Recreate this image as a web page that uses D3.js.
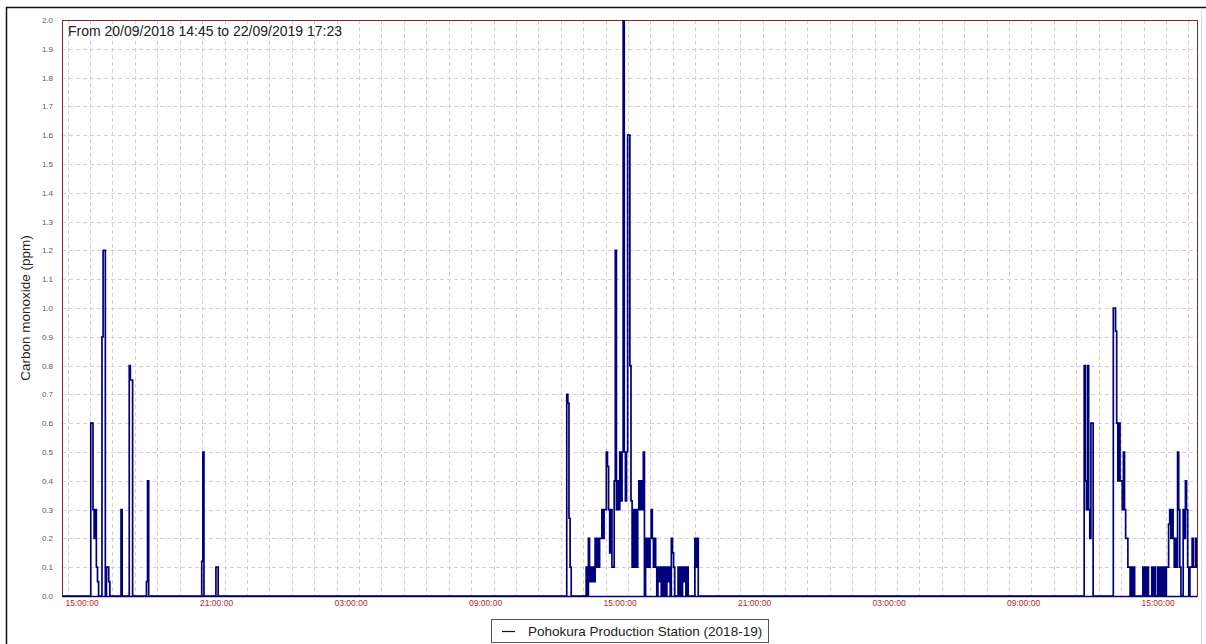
<!DOCTYPE html>
<html>
<head>
<meta charset="utf-8">
<script src="https://cdn.jsdelivr.net/npm/d3@7"></script>
<style>
  body { margin: 0; background: #fff; }
  text { font-family: "Liberation Sans", Arial, sans-serif; }
</style>
</head>
<body>
<div id="chart"></div>
<script>
// Chart text
const titleText = "From 20/09/2018 14:45 to 22/09/2019 17:23";
const seriesName = "Pohokura Production Station (2018-19)";
const yAxisTitle = "Carbon monoxide (ppm)";

// Axis range and ticks
const axisStart = "2018-09-20 14:45";
const axisEnd = "2018-09-22 17:23";
const yTickValues = [0.0, 0.1, 0.2, 0.3, 0.4, 0.5, 0.6, 0.7, 0.8, 0.9, 1.0,
  1.1, 1.2, 1.3, 1.4, 1.5, 1.6, 1.7, 1.8, 1.9, 2.0];
const xLabelHours = [3, 9, 15, 21];

// Readings (ppm), one every sampleMinutes, grouped in bursts; zero elsewhere
const sampleMinutes = 3;
const burstStarts = [
  "2018-09-20 16:02", "2018-09-20 16:32", "2018-09-20 17:23", "2018-09-20 17:45",
  "2018-09-20 18:31", "2018-09-20 20:59", "2018-09-20 21:37",
  "2018-09-21 13:16", "2018-09-21 14:08",
  "2018-09-22 12:21", "2018-09-22 13:39", "2018-09-22 14:58"
];
const burstValues = [
  [0.6, 0.6, 0.3, 0.2, 0.3, 0.1, 0.05],
  [0.9, 1.2, 1.2, 0, 0.1, 0.1, 0.05],
  [0.3],
  [0.8, 0.75, 0.75],
  [0.05, 0.4],
  [0.12, 0.5],
  [0.1, 0.1],
  [0.7, 0.67, 0.27, 0.1],
  [0.1, 0, 0.2, 0.05, 0.1, 0.05, 0.1, 0.05, 0.2, 0.1,
   0.2, 0.1, 0.2, 0.2, 0.3, 0.2, 0.3, 0.3, 0.5, 0.45,
   0.3, 0.15, 0.3, 0.1, 0.1, 0.4, 1.2, 0.3, 0.4, 0.3,
   0.5, 0.33, 0.5, 2.0, 0.5, 0.33, 0.5, 1.6, 1.6, 0.8,
   0.33, 0.1, 0.3, 0.1, 0.3, 0.1, 0.3, 0.4, 0.3, 0.4,
   0.3, 0.5, 0, 0.2, 0.1, 0.2, 0.1, 0.2, 0.3, 0.2,
   0.1, 0.2, 0.1, 0, 0.1, 0.05, 0.1, 0, 0.1, 0,
   0.1, 0, 0.1, 0.05, 0.1, 0, 0.2, 0.15, 0.1, 0,
   0, 0, 0.1, 0, 0.1, 0, 0.1, 0.05, 0.1, 0,
   0.1, 0, 0, 0, 0, 0, 0, 0.2, 0.1, 0.2, 0],
  [0.8, 0.4, 0.3, 0.8, 0.3, 0.2, 0.6, 0.6],
  [1.0, 1.0, 0.92, 0.6, 0.4, 0.6, 0.4, 0.4, 0.3, 0.5,
   0.3, 0.2, 0.2, 0.1, 0.1, 0, 0.1, 0, 0.1],
  [0.1, 0, 0.1, 0, 0.1, 0, 0, 0, 0.1, 0,
   0.1, 0, 0, 0.1, 0, 0.1, 0, 0.1, 0, 0.1,
   0, 0.1, 0.1, 0.25, 0.3, 0.2, 0.3, 0.2, 0.1, 0.2,
   0.1, 0.5, 0.3, 0.1, 0, 0, 0.3, 0.2, 0.4, 0.3,
   0.1, 0, 0.1, 0.1, 0.2, 0.1, 0.1, 0.2, 0.1]
];

const parseTime = d3.timeParse("%Y-%m-%d %H:%M");
const formatTick = d3.timeFormat("%H:%M:%S");

const W = 1206, H = 644;
const plot = { left: 62, right: 1197, top: 20, bottom: 596 };

const t0 = parseTime(axisStart);
const t1 = parseTime(axisEnd);

// Build the step series
const points = [{ t: t0, v: 0 }];
burstStarts.forEach((s, b) => {
  const start = parseTime(s);
  burstValues[b].forEach((v, i) => {
    points.push({ t: d3.timeMinute.offset(start, i * sampleMinutes), v });
  });
  points.push({ t: d3.timeMinute.offset(start, burstValues[b].length * sampleMinutes), v: 0 });
});
points.push({ t: t1, v: 0 });

const svg = d3.select("#chart").append("svg")
  .attr("width", W).attr("height", H);

const x = d3.scaleTime().domain([t0, t1]).range([plot.left, plot.right]);
const y = d3.scaleLinear().domain([0, 2]).range([plot.bottom, plot.top]);

// Outer frame
svg.append("line").attr("x1", 6).attr("x2", W).attr("y1", 7.5).attr("y2", 7.5)
  .attr("stroke", "#111").attr("stroke-width", 1.5);
svg.append("line").attr("x1", 6.5).attr("x2", 6.5).attr("y1", 7).attr("y2", H)
  .attr("stroke", "#111").attr("stroke-width", 1.5);
svg.append("line").attr("x1", 1201.5).attr("x2", 1201.5).attr("y1", 8).attr("y2", H)
  .attr("stroke", "#d6d6d6");

// Grid
const grid = svg.append("g").attr("stroke", "#d2d2d2").attr("stroke-dasharray", "4,3")
  .attr("shape-rendering", "crispEdges");
grid.selectAll(".hline")
  .data(yTickValues.filter(d => d > 0 && d < 2))
  .join("line")
  .attr("x1", plot.left).attr("x2", plot.right)
  .attr("y1", d => Math.round(y(d)) + 0.5).attr("y2", d => Math.round(y(d)) + 0.5);
grid.selectAll(".vline")
  .data(d3.timeHour.range(d3.timeHour.ceil(t0), t1))
  .join("line")
  .attr("y1", plot.top).attr("y2", plot.bottom)
  .attr("x1", d => Math.round(x(d)) + 0.5).attr("x2", d => Math.round(x(d)) + 0.5);

// Y axis labels
svg.append("g")
  .selectAll("text")
  .data(yTickValues)
  .join("text")
  .attr("x", 53)
  .attr("y", d => y(d) + 3)
  .attr("text-anchor", "end")
  .attr("font-size", 8)
  .attr("fill", "#5a5a5a")
  .text(d => d3.format(".1f")(d));

// X axis labels
const xTicks = d3.timeHour.range(d3.timeHour.ceil(t0), t1)
  .filter(d => xLabelHours.includes(d.getHours()));
svg.append("g")
  .selectAll("text")
  .data(xTicks)
  .join("text")
  .attr("x", d => x(d) + 14.5)
  .attr("y", 606)
  .attr("text-anchor", "middle")
  .attr("font-size", 8.5)
  .attr("fill", "#b02a2a")
  .text(d => formatTick(d));

// Plot frame
svg.append("rect")
  .attr("x", plot.left + 0.5).attr("y", plot.top + 0.5)
  .attr("width", plot.right - plot.left).attr("height", plot.bottom - plot.top)
  .attr("fill", "none").attr("stroke", "#8a2525")
  .attr("shape-rendering", "crispEdges");

// Data line
svg.append("clipPath").attr("id", "clip")
  .append("rect")
  .attr("x", plot.left).attr("y", plot.top)
  .attr("width", plot.right - plot.left).attr("height", plot.bottom - plot.top + 2);

const line = d3.line()
  .x(d => x(d.t))
  .y(d => y(d.v))
  .curve(d3.curveStepAfter);

svg.append("path")
  .datum(points)
  .attr("clip-path", "url(#clip)")
  .attr("fill", "none")
  .attr("stroke", "#00007c")
  .attr("stroke-width", 1.7)
  .attr("d", line);

// Bottom axis line (navy, under the zero readings)
svg.append("line")
  .attr("x1", plot.left).attr("x2", plot.right)
  .attr("y1", plot.bottom + 0.5).attr("y2", plot.bottom + 0.5)
  .attr("stroke", "#00007c").attr("stroke-width", 1.5);

// Title
svg.append("text")
  .attr("x", 68).attr("y", 36)
  .attr("font-size", 14)
  .attr("fill", "#222")
  .text(titleText);

// Y axis title
svg.append("text")
  .attr("transform", "translate(30,308) rotate(-90)")
  .attr("text-anchor", "middle")
  .attr("font-size", 13.5)
  .attr("fill", "#222")
  .text(yAxisTitle);

// Legend
const legend = svg.append("g");
legend.append("rect")
  .attr("x", 491.5).attr("y", 619.5)
  .attr("width", 277).attr("height", 23)
  .attr("fill", "#fff").attr("stroke", "#555");
legend.append("line")
  .attr("x1", 502).attr("x2", 515).attr("y1", 631.5).attr("y2", 631.5)
  .attr("stroke", "#111").attr("stroke-width", 1.2);
legend.append("text")
  .attr("x", 528).attr("y", 636)
  .attr("font-size", 13.5)
  .attr("fill", "#222")
  .text(seriesName);
</script>
</body>
</html>
